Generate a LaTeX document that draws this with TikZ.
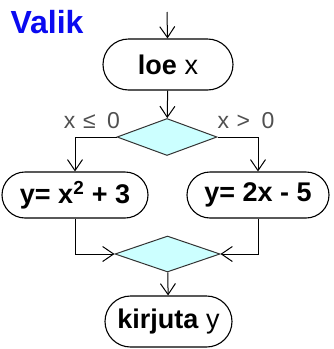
\documentclass[tikz,border=0pt]{standalone}
\usepackage{fontspec}
\setmainfont{Liberation Sans}
\usepackage{tikz}
\usetikzlibrary{shapes.geometric, shapes.misc, arrows.meta, positioning}
\definecolor{ttl}{HTML}{0A0AF0}
\definecolor{dia}{HTML}{CCFFFF}
\definecolor{lgr}{HTML}{505050}
\tikzset{
  term/.style = {rounded rectangle, draw=black, fill=white, line width=1.1pt,
                 inner sep=0pt, font=\fontsize{27}{30}\selectfont},
  cond/.style = {diamond, draw=black!80, fill=dia, line width=1pt,
                 inner sep=0pt},
  arr/.style  = {-{Straight Barb[length=11pt,width=15pt]}, line width=1pt},
  lbl/.style  = {font=\fontsize{23}{26}\selectfont, text=lgr},
}

\begin{document}
\begin{tikzpicture}[x=1pt, y=-1pt]
  \useasboundingbox (0,0) rectangle (334,349);

  \node[font=\fontsize{32}{35}\selectfont\bfseries, text=ttl, anchor=west]
    (title) at (7,22) {Valik};

  \coordinate (start) at (167,12);
  \node[term, minimum width=130pt, minimum height=51pt] (read) at (168,64.5)
    {\textbf{loe} x};
  \node[cond, minimum width=100pt, minimum height=37pt] (test) at (167,137) {};
  \node[term, minimum width=146pt, minimum height=46pt] (neg) at (75,195)
    {\textbf{y= x\textsuperscript{2} + 3}};
  \node[term, minimum width=142pt, minimum height=46pt] (pos) at (258,195)
    {\textbf{y= 2x - 5}};
  \node[cond, minimum width=105pt, minimum height=36pt] (join) at (167.5,254) {};
  \node[term, minimum width=127pt, minimum height=51pt] (write) at (168.5,321.5)
    {\textbf{kirjuta} y};

  \node[lbl] (negl) at (92,121) {x\,\,≤\,\,\,0};
  \node[lbl] (posl) at (246,121) {x\,\,>\,\,\,0};

  \draw[arr] (start) -- (read);
  \draw[arr] (read) -- (test);
  \draw[arr] (test.west) -| (neg);
  \draw[arr] (test.east) -| (pos);
  \draw[arr] (neg) |- (join.west);
  \draw[arr] (pos) |- (join.east);
  \draw[arr] (join) -- (write);

\end{tikzpicture}
\end{document}
